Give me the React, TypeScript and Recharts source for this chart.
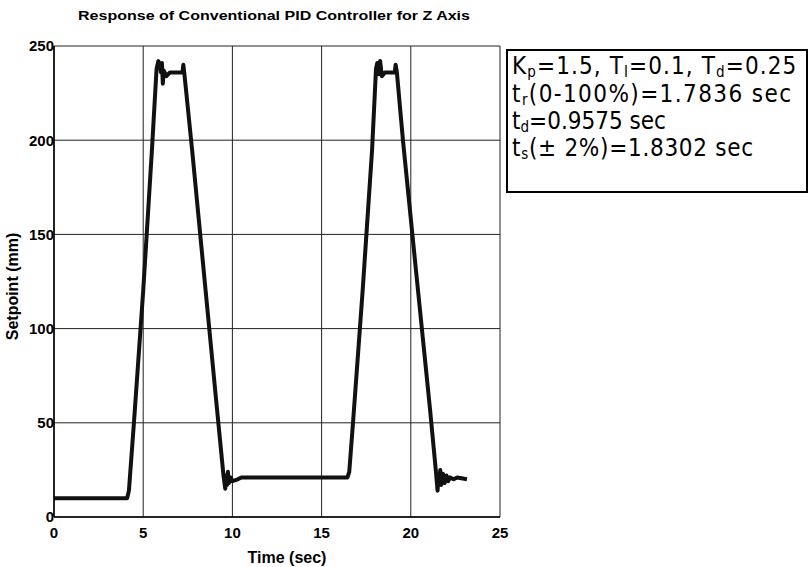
import React from 'react';
import { LineChart, Line, XAxis, YAxis, CartesianGrid } from 'recharts';

// Z axis response
const time = [
  0, 4.1, 4.2, 4.48, 5.0, 5.49, 5.75, 5.85, 5.95, 6.0, 6.05, 6.1, 6.15, 6.3, 6.5, 7.2, 7.25, 7.3,
  7.74, 8.5, 9.14, 9.5, 9.6, 9.65, 9.7, 9.75, 9.8, 9.9, 10.0, 10.3, 10.5,
  16.45, 16.55, 16.76, 17.3, 17.83, 18.05, 18.12, 18.2, 18.28, 18.38, 18.55, 19.1, 19.15, 19.22,
  19.56, 20.3, 21.08, 21.4, 21.5, 21.55, 21.6, 21.65, 21.7, 21.8, 21.9, 22.0, 22.1, 22.2, 22.4, 22.6, 23.15,
];
const setpoint = [
  10, 10, 14, 50, 120, 195, 238, 242, 239, 236, 241, 230, 237, 234, 236, 236, 240, 236,
  195, 120, 57, 22, 15, 22, 17, 24, 18, 21, 19, 20, 21,
  21, 24, 50, 120, 195, 238, 241, 235, 242, 234, 236, 236, 240, 236,
  200, 130, 57, 25, 14, 22, 18, 25, 17, 23, 18, 22, 19, 21, 20, 21, 20,
];
const xTicks = [0, 5, 10, 15, 20, 25];
const yTicks = [0, 50, 100, 150, 200, 250];

const data = time.map((t, i) => ({ t, v: setpoint[i] }));

const tickFont = { fontFamily: 'Liberation Sans, Arial, sans-serif', fontSize: 15, fontWeight: 700, fill: '#000' };
const labelFont = { ...tickFont, fontSize: 16 };
const boxFont = 'DejaVu Sans Condensed, DejaVu Sans, sans-serif';

export default function App() {
  return (
    <div style={{ position: 'absolute', left: 0, top: 0, width: 811, height: 567, background: '#fff' }}>
      <LineChart width={811} height={567} data={data} margin={{ top: 46, right: 311, bottom: 0, left: 0 }}>
        <CartesianGrid stroke="#222" strokeWidth={1} horizontalValues={yTicks} verticalValues={xTicks} />
        <XAxis
          dataKey="t"
          type="number"
          domain={[0, 25]}
          ticks={xTicks}
          height={50}
          tickLine={false}
          tickSize={8}
          tickMargin={2}
          axisLine={{ stroke: '#000', strokeWidth: 1.5 }}
          tick={tickFont}
          label={{ value: 'Time (sec)', position: 'insideBottom', offset: 4, dx: 10, style: labelFont }}
        />
        <YAxis
          type="number"
          domain={[0, 250]}
          ticks={yTicks}
          width={54}
          tickLine={false}
          tickSize={0}
          tickMargin={0}
          axisLine={{ stroke: '#000', strokeWidth: 1.5 }}
          tick={tickFont}
          label={{ value: 'Setpoint (mm)', angle: -90, position: 'insideLeft', offset: 12, dy: 5, style: { ...labelFont, textAnchor: 'middle' } }}
        />
        <Line
          dataKey="v"
          type="linear"
          stroke="#111"
          strokeWidth={4}
          strokeLinejoin="round"
          dot={false}
          isAnimationActive={false}
        />
      </LineChart>
      <svg width={811} height={567} style={{ position: 'absolute', left: 0, top: 0, pointerEvents: 'none' }}>
        <text x={274} y={20} textAnchor="middle" textLength={392} lengthAdjust="spacingAndGlyphs"
          style={{ ...tickFont, fontSize: 13.5 }}>
          Response of Conventional PID Controller for Z Axis
        </text>
        <rect x={507} y={50} width={300} height={142} fill="#fff" stroke="#000" strokeWidth={2} />
        <g fontFamily={boxFont} fontSize={24} fill="#000">
          <text x={512} y={74} style={{ letterSpacing: 1.1 }}>
            K<tspan dy={3} fontSize={15}>p</tspan><tspan dy={-3}>=1.5, T</tspan>
            <tspan dy={3} fontSize={15}>I</tspan><tspan dy={-3}>=0.1, T</tspan>
            <tspan dy={3} fontSize={15}>d</tspan><tspan dy={-3}>=0.25</tspan>
          </text>
          <text x={512} y={102} style={{ letterSpacing: 1.4 }}>
            t<tspan dy={3} fontSize={15}>r</tspan><tspan dy={-3}>(0-100%)=1.7836 sec</tspan>
          </text>
          <text x={512} y={129}>
            t<tspan dy={3} fontSize={15}>d</tspan><tspan dy={-3}>=0.9575 sec</tspan>
          </text>
          <text x={512} y={156} style={{ letterSpacing: 0.7 }}>
            t<tspan dy={3} fontSize={15}>s</tspan><tspan dy={-3}>(± 2%)=1.8302 sec</tspan>
          </text>
        </g>
      </svg>
    </div>
  );
}
